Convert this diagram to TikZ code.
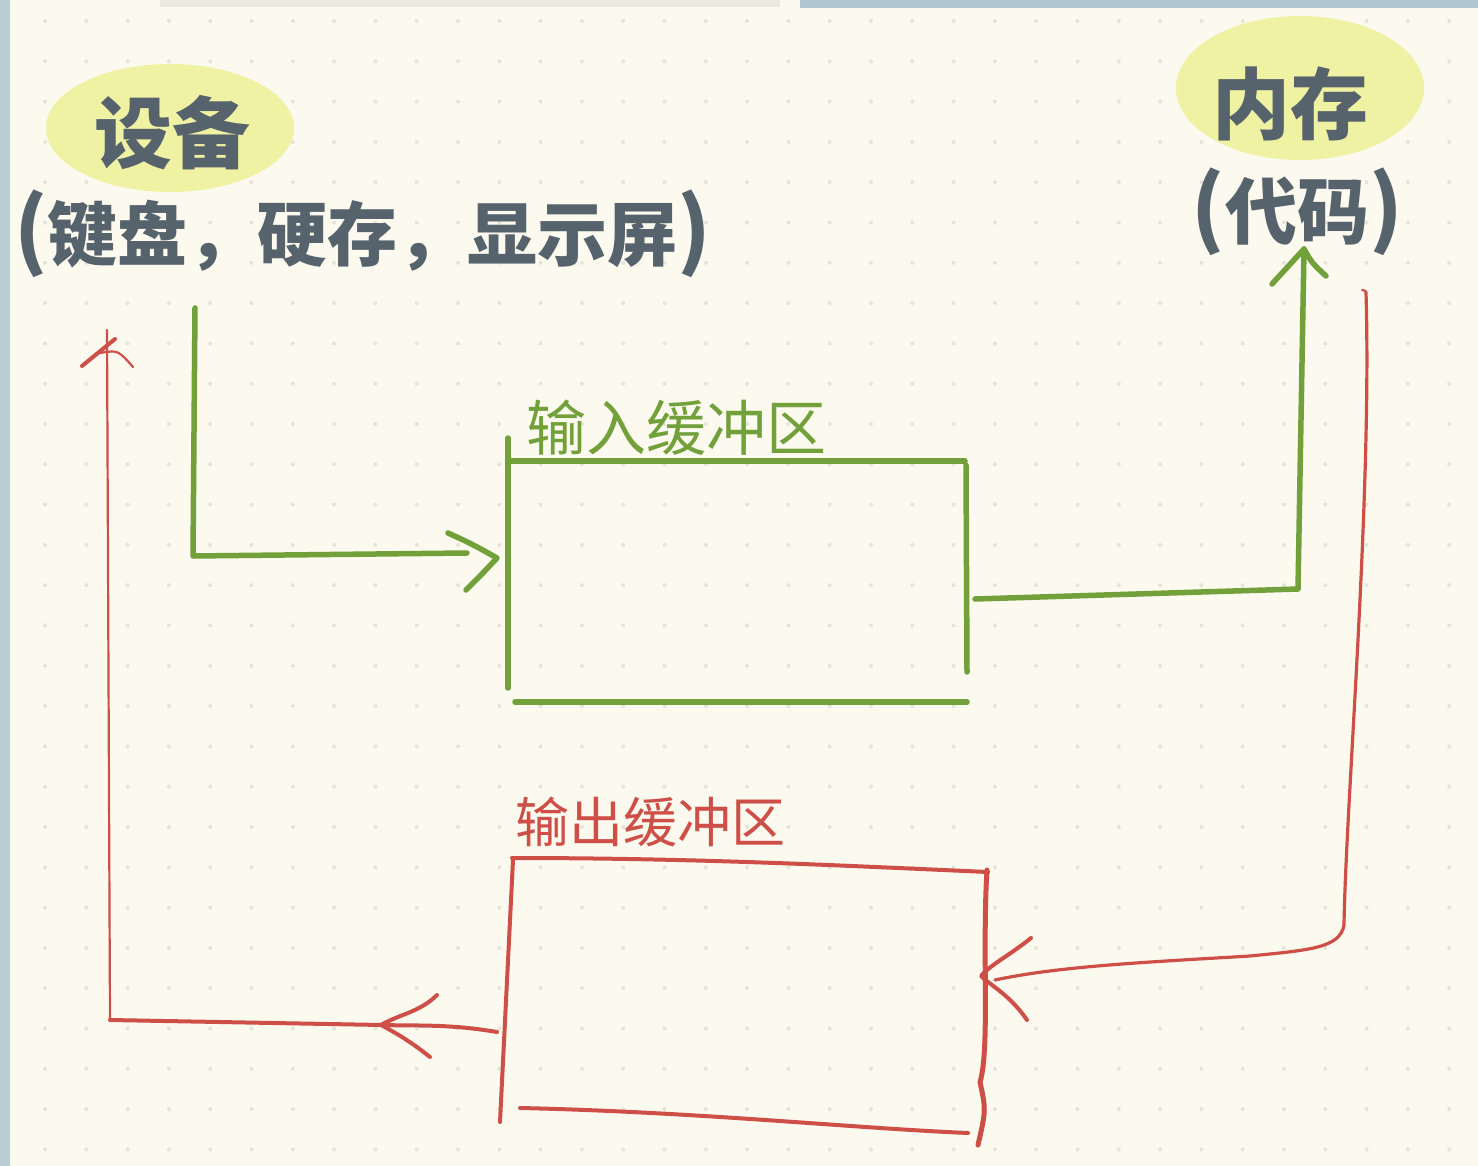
\documentclass[tikz,border=0pt]{standalone}
\usepackage{fontspec}
\newfontfamily\cjk{Noto Sans CJK SC}
\definecolor{bgc}{HTML}{FCF9EE}
\definecolor{dotc}{HTML}{E6E3D8}
\definecolor{stripc}{HTML}{B9CDD3}
\definecolor{barg}{HTML}{ECE9DF}
\definecolor{barb}{HTML}{AFC8CF}
\definecolor{hl}{HTML}{EFF1A3}
\definecolor{inkc}{HTML}{56626C}
\definecolor{gc}{HTML}{72A03A}
\definecolor{rc}{HTML}{CD4F47}
\newcommand{\bigparen}[1]{{\fontsize{84}{84}\selectfont #1}}
\tikzset{
  big/.style={text=inkc, inner sep=0pt, font=\cjk\bfseries\fontsize{78}{80}\selectfont},
  mid/.style={text=inkc, inner sep=0pt, font=\cjk\bfseries\fontsize{70}{72}\selectfont},
  gline/.style={draw=gc, line width=5.5pt, line cap=round, line join=round},
  rline/.style={draw=rc, line width=4pt, line cap=round, line join=round},
  rthin/.style={draw=rc, line width=2.2pt, line cap=round, line join=round},
  buf/.style={inner sep=0pt, minimum width=458pt, minimum height=241pt}
}
\begin{document}
\begin{tikzpicture}[x=1pt,y=-1pt]
\useasboundingbox (0,0) rectangle (1478,1166);
\fill[bgc] (0,0) rectangle (1478,1166);
\foreach \i in {0,...,35} \foreach \j in {0,...,28}
  \fill[dotc] ({45+41.3*\i},{21+40.3*\j}) circle (2);
% edges
\fill[stripc] (0,0) rectangle (10,1166);
\fill[barg] (160,0) rectangle (780,7);
\fill[barb] (800,0) rectangle (1478,8);
% highlights
\fill[hl] (170,128) ellipse [x radius=124, y radius=64];
\fill[hl] (1300,88) ellipse [x radius=124, y radius=72];
% texts
\node[big] (dev) at (172,133) {设备};
\node[mid] (devlist) at (363,234) {\bigparen{(}键盘，硬存，显示屏\bigparen{)}};
\node[big] (mem) at (1290,104) {内存};
\node[text=inkc, inner sep=0pt, font=\cjk\bfseries\fontsize{72}{74}\selectfont] (code) at (1297,212) {\bigparen{(}代码\bigparen{)}};
\node[text=gc, inner sep=0pt, font=\cjk\fontsize{60}{62}\selectfont] (inlab) at (676,428) {输入缓冲区};
\node[text=rc, inner sep=0pt, font=\cjk\fontsize{54}{56}\selectfont] (outlab) at (650,822) {输出缓冲区};
% buffers (named areas)
\node[buf] (inbuf) at (737,581) {};
\node[buf, minimum height=260pt] (outbuf) at (744,1000) {};
% input buffer box
\draw[gline] (508,461) -- (965,461);
\draw[gline] (508,438) -- (508,688);
\draw[gline] (966,465) -- (967,672);
\draw[gline] (515,702) -- (967,702);
% device -> input buffer
\coordinate (g0) at (195,308);
\coordinate (g1) at (193,556);
\coordinate (g2) at (467,553);
\draw[gline] (g0) -- (g1) -- (g2);
\draw[gline] (448,533) .. controls (472,544) .. (497,558) .. controls (484,572) .. (466,590);
% input buffer -> memory
\coordinate (g3) at (975,599);
\coordinate (g4) at (1298,589);
\coordinate (g5) at (1304,249);
\draw[gline] (g3) -- (g4) -- (g5);
\draw[gline] (1272,284) -- (1304,249) .. controls (1312,263) .. (1326,276);
% output buffer box
\draw[rline] (512,858) .. controls (700,858) and (850,866) .. (988,872);
\draw[rline] (513,860) -- (500,1122);
\draw[rline, line width=5pt] (987,870) .. controls (982,950) and (990,1050) .. (980,1082) .. controls (986,1110) .. (978,1145);
\draw[rline] (520,1108) .. controls (700,1112) and (850,1128) .. (968,1133);
% memory -> output buffer
\coordinate (r0) at (1366,292);
\coordinate (r1) at (995,980);
\draw[rthin] (1362,290) .. controls (1366,291) .. (r0);
\draw[rline, line width=3.2pt] (r0) .. controls (1372,500) and (1346,800) .. (1344,925) .. controls (1340,948) and (1310,950) .. (1250,956) .. controls (1150,962) and (1060,966) .. (r1);
\draw[rline] (1031,938) .. controls (1010,955) and (990,965) .. (981,976) .. controls (990,985) and (1010,995) .. (1027,1020);
% output buffer -> device
\coordinate (r2) at (497,1032);
\coordinate (r3) at (110,1020);
\coordinate (r4) at (107,330);
\draw[rline] (r2) .. controls (450,1024) and (420,1026) .. (382,1025) -- (r3);
\draw[rline] (437,995) .. controls (420,1012) and (400,1014) .. (381,1025) .. controls (400,1035) and (415,1045) .. (430,1057);
\draw[rthin] (r3) -- (r4);
\draw[rline] (82,366) -- (115,339);
\draw[rthin] (100,353) .. controls (118,350) .. (133,367);
\end{tikzpicture}
\end{document}
